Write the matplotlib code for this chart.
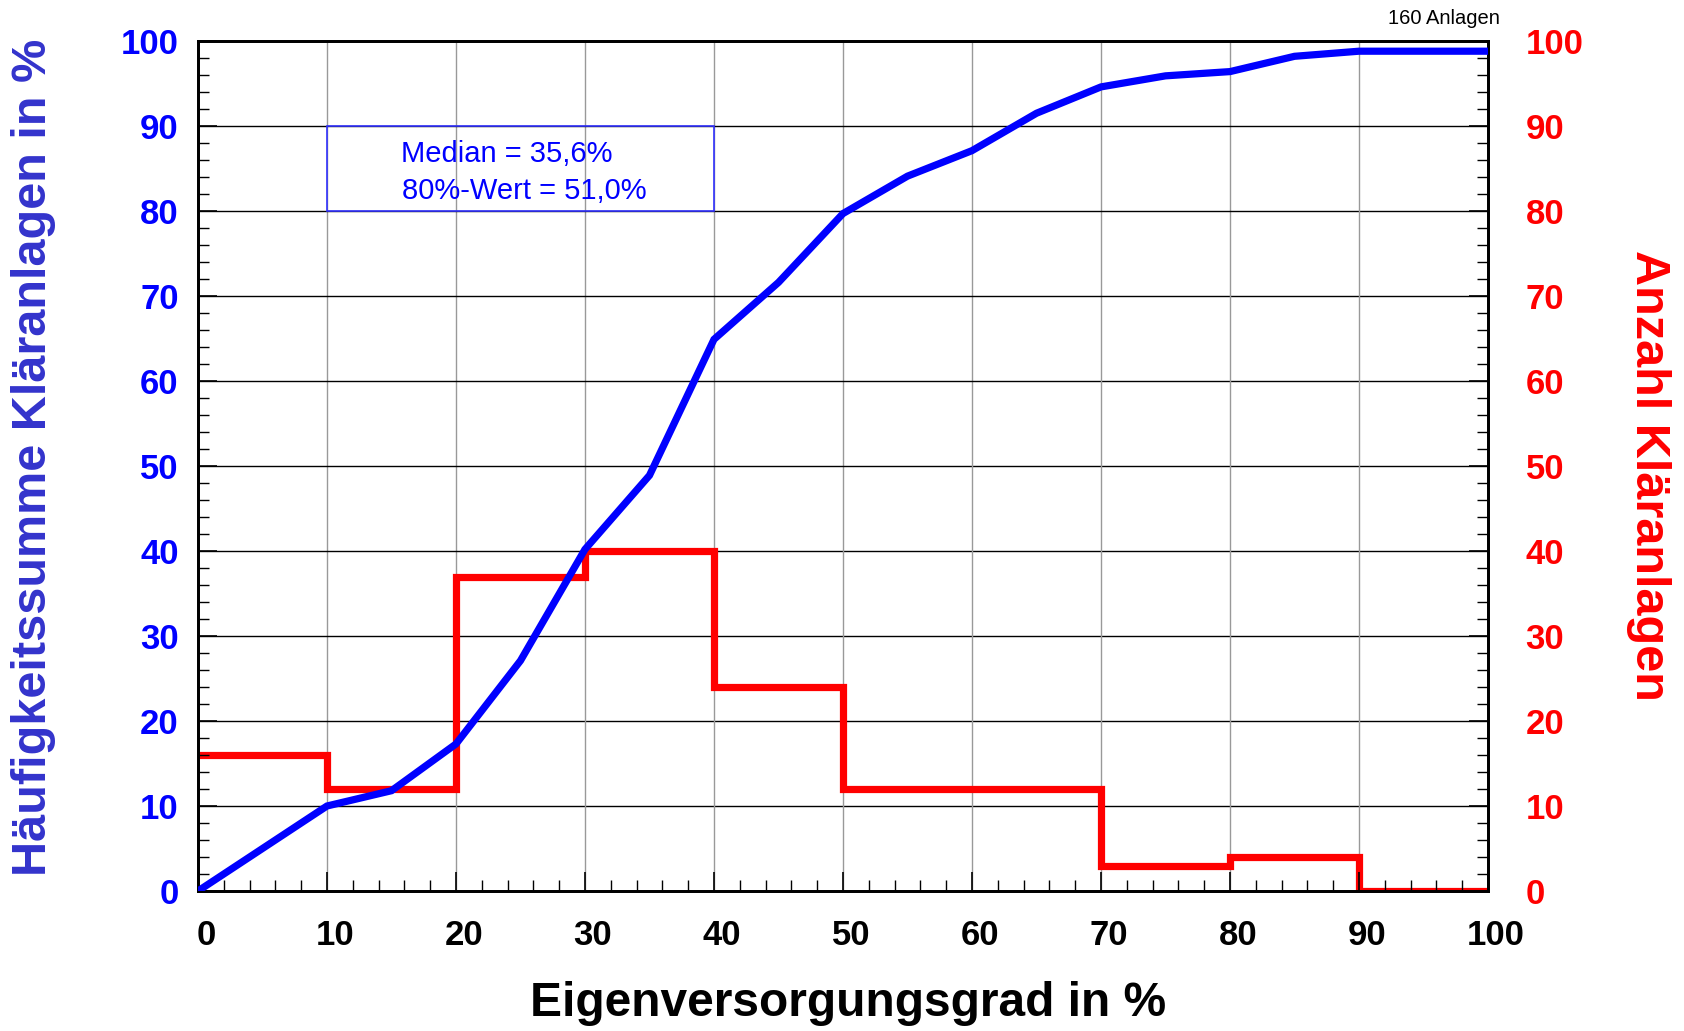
import matplotlib
matplotlib.use("Agg")
import matplotlib.pyplot as plt
import matplotlib.transforms as mtransforms
from matplotlib.patches import Rectangle
from matplotlib.ticker import MultipleLocator

plt.rcParams['font.family'] = ['Liberation Sans', 'DejaVu Sans']

# Eigenversorgungsgrad (x) and Summenhaeufigkeit (blue line)
cum_x = [0, 10, 15, 20, 25, 30, 35, 40, 45, 50, 55, 60, 65, 70, 75, 80, 85, 90, 100]
cum_pct = [0, 10.0, 11.8, 17.3, 27.1, 40.2, 48.9, 64.9, 71.6, 79.7, 84.1, 87.1,
           91.5, 94.6, 95.9, 96.4, 98.2, 98.8, 98.8]

# Anzahl Klaeranlagen je Klasse (red steps)
class_edges = [0, 10, 20, 30, 40, 50, 60, 70, 80, 90, 100]
class_counts = [16, 12, 37, 40, 24, 12, 12, 3, 4, 0]

tick_vals = list(range(0, 101, 10))
median_text = "Median = 35,6%"
p80_text = "80%-Wert = 51,0%"
n_text = "160 Anlagen"

fig = plt.figure(figsize=(16.84, 10.31), dpi=100)
ax = fig.add_axes([198 / 1684, 1 - 891 / 1031, 1290 / 1684, 850 / 1031])
ax2 = ax.twinx()
ax.set_zorder(ax2.get_zorder() + 1)
ax.patch.set_visible(False)

# grid lives on the lower axis so the red steps sit above it
for v in tick_vals[1:-1]:
    ax2.axvline(v, color='#999999', lw=1.0, zorder=0)
    ax2.axhline(v, color='black', lw=1.0, zorder=0)

ax2.stairs(class_counts, class_edges, color='red', lw=5.2, zorder=2, baseline=None)
ax.plot(cum_x, cum_pct, color='blue', lw=5.2, solid_joinstyle='miter', zorder=3)

ax.set_xlim(0, 100)
ax.set_ylim(0, 100)
ax2.set_ylim(0, 100)

for a in (ax, ax2):
    for s in a.spines.values():
        s.set_linewidth(2)
    a.xaxis.set_major_locator(MultipleLocator(10))
    a.xaxis.set_minor_locator(MultipleLocator(2))
    a.yaxis.set_major_locator(MultipleLocator(10))
    a.yaxis.set_minor_locator(MultipleLocator(2))

ax.tick_params(axis='x', which='major', direction='in', length=14, width=1.2,
               labelsize=25, pad=20, top=False)
ax.tick_params(axis='x', which='minor', direction='in', length=8, width=1.0, top=False)
ax.tick_params(axis='y', which='major', direction='in', length=14, width=1.2,
               labelsize=25, pad=14, labelcolor='blue', right=False)
ax.tick_params(axis='y', which='minor', direction='in', length=8, width=1.0, right=False)
ax2.tick_params(axis='y', which='major', direction='in', length=14, width=1.2,
                labelsize=25, pad=27, labelcolor='red')
ax2.tick_params(axis='y', which='minor', direction='in', length=8, width=1.0)
ax2.tick_params(axis='x', which='both', bottom=False, top=False, labelbottom=False)

for lab in ax.get_xticklabels() + ax.get_yticklabels() + ax2.get_yticklabels():
    lab.set_fontweight('bold')
shift = mtransforms.ScaledTranslation(8 / 100, 0, fig.dpi_scale_trans)
for lab in ax.get_xticklabels():
    lab.set_transform(lab.get_transform() + shift)

fig.text(848 / 1684, 1 - 1004 / 1031, "Eigenversorgungsgrad in %", ha='center', va='center',
         fontsize=34.5, fontweight='bold', color='black')
fig.text(34 / 1684, 1 - 457 / 1031, "Häufigkeitssumme Kläranlagen in %", ha='center',
         va='center', rotation=90, fontsize=35, fontweight='bold', color='#3333cc')
fig.text(1649 / 1684, 1 - 475 / 1031, "Anzahl Kläranlagen", ha='center', va='center',
         rotation=-90, fontsize=35, fontweight='bold', color='red')
fig.text(1444 / 1684, 1 - 18 / 1031, n_text, ha='center', va='center', fontsize=14.5)

ax.add_patch(Rectangle((10, 80), 30, 10, fill=False, edgecolor='#3333ff', lw=1.2, zorder=4))
ax.text(15.7, 86.7, median_text, fontsize=21, color='blue', va='center', ha='left')
ax.text(15.8, 82.4, p80_text, fontsize=21, color='blue', va='center', ha='left')

fig.savefig("out.png", dpi=100)
